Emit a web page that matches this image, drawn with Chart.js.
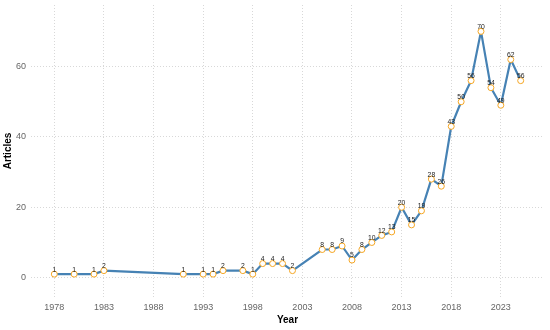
<!DOCTYPE html>
<html>
<head>
<meta charset="utf-8">
<script src="https://cdn.jsdelivr.net/npm/chart.js@4.4.1/dist/chart.umd.min.js"></script>
<style>
    html, body { margin: 0; padding: 0; background: #fff; }
    #wrap { width: 550px; height: 330px; }
</style>
</head>
<body>
<div id="wrap"><canvas id="myChart" width="550" height="330"></canvas></div>
<script>
const years = [1978, 1980, 1982, 1983, 1991, 1993, 1994, 1995, 1997, 1998, 1999, 2000, 2001, 2002,
    2005, 2006, 2007, 2008, 2009, 2010, 2011, 2012, 2013, 2014, 2015, 2016, 2017, 2018, 2019,
    2020, 2021, 2022, 2023, 2024, 2025];
const articles = [1, 1, 1, 2, 1, 1, 1, 2, 2, 1, 4, 4, 4, 2,
    8, 8, 9, 5, 8, 10, 12, 13, 20, 15, 19, 28, 26, 43, 50,
    56, 70, 54, 49, 62, 56];
const xTicks = [1978, 1983, 1988, 1993, 1998, 2003, 2008, 2013, 2018, 2023];
const yTicks = [0, 20, 40, 60];

const fontFamily = "'Liberation Sans', Arial, sans-serif";
const ctx = document.getElementById("myChart").getContext("2d");

// value labels above each point
const pointLabels = {
    id: "pointLabels",
    afterDatasetsDraw(chart) {
        const meta = chart.getDatasetMeta(0);
        const c = chart.ctx;
        c.save();
        c.font = "6.8px " + fontFamily;
        c.fillStyle = "#222";
        c.textAlign = "center";
        c.textBaseline = "middle";
        meta.data.forEach((pt, i) => {
            c.fillText(String(articles[i]), pt.x, pt.y - 4.5);
        });
        c.restore();
    }
};

const gridStyle = { color: "#d8d8d8", lineWidth: 1, drawTicks: false };
const borderStyle = { display: false, dash: [1, 2] };

new Chart(ctx, {
    type: "line",
    data: {
        datasets: [{
            data: years.map((y, i) => ({ x: y, y: articles[i] })),
            borderColor: "#4682B4",
            borderWidth: 2.2,
            pointRadius: 3,
            pointBorderWidth: 1,
            pointBorderColor: "#F5A623",
            pointBackgroundColor: "#fff",
            tension: 0,
            clip: false
        }]
    },
    options: {
        responsive: false,
        animation: false,
        devicePixelRatio: 1,
        layout: { padding: { top: 3, right: 6, left: 0, bottom: 0 } },
        plugins: {
            legend: { display: false },
            tooltip: { enabled: false }
        },
        scales: {
            x: {
                type: "linear",
                min: 1975.65,
                max: 2027.35,
                grid: gridStyle,
                border: borderStyle,
                afterBuildTicks: scale => { scale.ticks = xTicks.map(v => ({ value: v })); },
                afterFit: scale => {
                    scale.height = 33;
                    scale.paddingLeft = 0;
                    scale.paddingRight = 0;
                },
                ticks: {
                    padding: 5,
                    color: "#666",
                    font: { family: fontFamily, size: 9 },
                    callback: v => String(v)
                },
                title: {
                    display: true,
                    text: "Year",
                    color: "#000",
                    padding: { top: 0, bottom: 4 },
                    font: { family: fontFamily, size: 10, weight: "bold" }
                }
            },
            y: {
                min: -5.5,
                max: 77.5,
                grid: gridStyle,
                border: borderStyle,
                afterBuildTicks: scale => { scale.ticks = yTicks.map(v => ({ value: v })); },
                afterFit: scale => {
                    scale.width = 31;
                    scale.paddingTop = 0;
                    scale.paddingBottom = 0;
                },
                ticks: {
                    padding: 5,
                    color: "#666",
                    font: { family: fontFamily, size: 9 }
                },
                title: {
                    display: true,
                    text: "Articles",
                    color: "#000",
                    padding: { top: 2, bottom: 0 },
                    font: { family: fontFamily, size: 10, weight: "bold" }
                }
            }
        }
    },
    plugins: [pointLabels]
});
</script>
</body>
</html>
